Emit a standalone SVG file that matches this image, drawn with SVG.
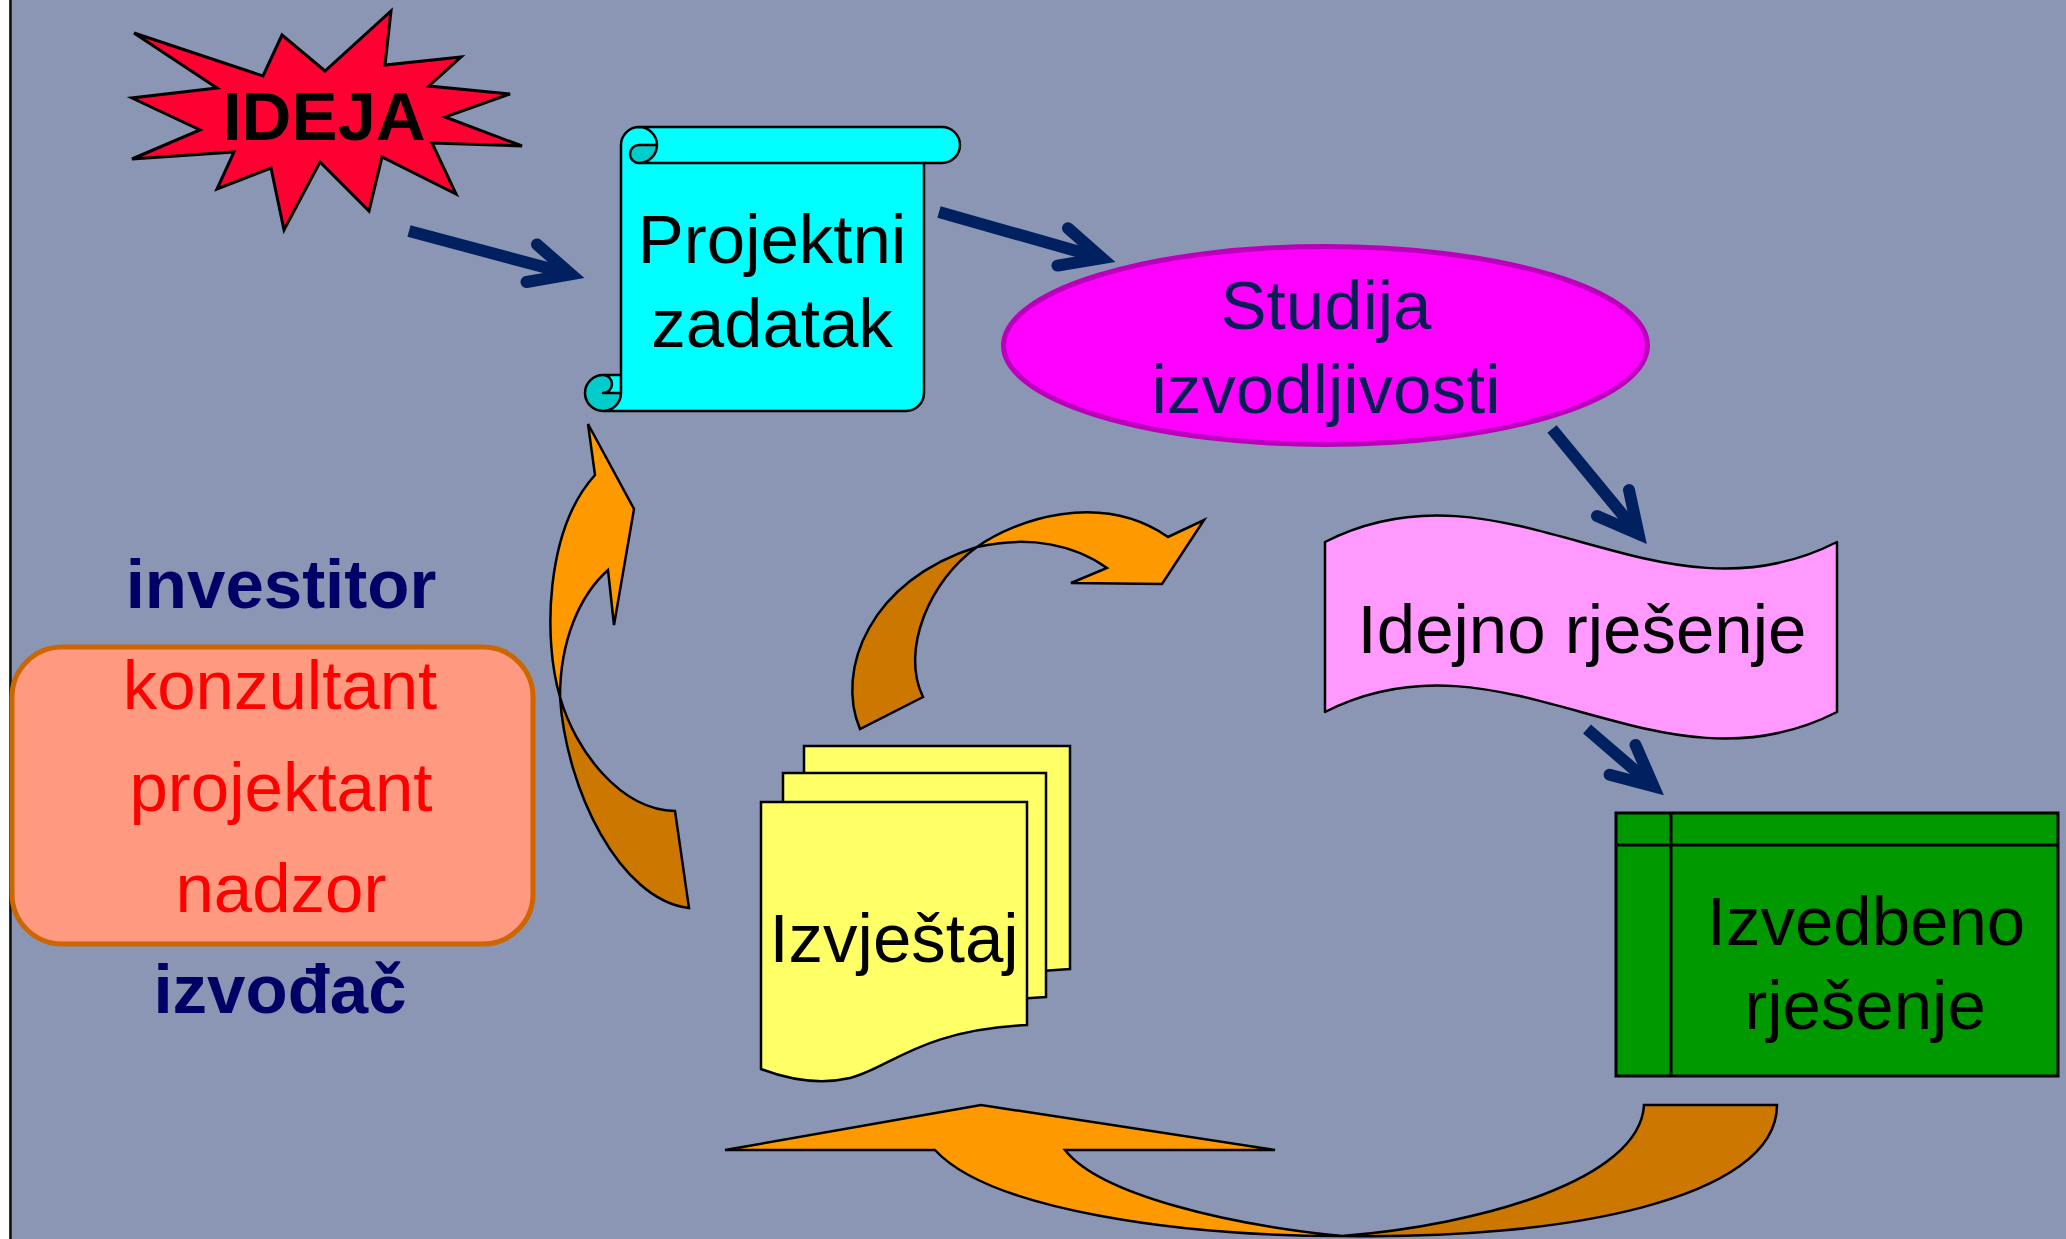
<svg xmlns="http://www.w3.org/2000/svg" width="2066" height="1239" viewBox="0 0 2066 1239">
  <defs>
    <style>
      .t { font-family: "Liberation Sans", Arial, sans-serif; font-size: 69px; text-anchor: middle; }
      .b { font-weight: bold; }
      .ol { stroke: #000; stroke-width: 2.5; stroke-linejoin: round; }
      .shaft { fill: none; stroke: #002060; stroke-width: 12; stroke-linecap: butt; }
      .head { fill: none; stroke: #002060; stroke-width: 12; stroke-linecap: round; stroke-linejoin: miter; stroke-miterlimit: 6; }
      .lite { fill: #FF9900; stroke: #000; stroke-width: 2.5; stroke-linejoin: miter; }
      .dark { fill: #CC7700; stroke: #000; stroke-width: 2.5; stroke-linejoin: miter; }
      .doc { fill: #FFFF66; stroke: #000; stroke-width: 2.5; }
    </style>
  </defs>

  <rect x="0" y="0" width="2066" height="1239" fill="#FFFFFF"/>
  <rect x="9" y="0" width="2057" height="1239" fill="#8B96B4"/>
  <line x1="10.5" y1="0" x2="10.5" y2="1239" stroke="#111" stroke-width="2.5"/>

  <g id="connectors">
    <!-- navy arrows -->
    <g id="arrow-ideja-projektni">
      <path class="shaft" d="M409,231 L571,274.3"/>
      <path class="head" d="M537,244.5 L571,274.3 L526.5,282"/>
    </g>
    <g id="arrow-projektni-studija">
      <path class="shaft" d="M939,212 L1102,258.2"/>
      <path class="head" d="M1068,228.2 L1102,258.2 L1057.5,265.6"/>
    </g>
    <g id="arrow-studija-idejno">
      <path class="shaft" d="M1552,429 L1638.5,534"/>
      <path class="head" d="M1629,490 L1638.5,534 L1597,516.1"/>
    </g>
    <g id="arrow-idejno-izvedbeno">
      <path class="shaft" d="M1587,729 L1653.5,786.2"/>
      <path class="head" d="M1635.5,744.9 L1653.5,786.2 L1609.6,774.7"/>
    </g>

    <!-- orange curved arrow: izvedbeno -> izvjestaj (bottom) -->
    <g id="arrow-izvedbeno-izvjestaj">
      <path class="dark" d="M1342,1236 C1560,1240 1777,1200 1777,1105 L1644,1105 C1640,1180 1480,1225 1342,1236 Z"/>
      <path class="lite" d="M1342,1236 C1180,1236 990,1210 935,1150 L725,1150 L981,1105 L1275,1150 L1065,1150 C1100,1195 1230,1225 1342,1236 Z"/>
    </g>

    <!-- orange curved arrow: izvjestaj -> up-right -->
    <g id="arrow-izvjestaj-loop">
      <path class="dark" d="M860,729 C835,670 870,580 977,547 C930,580 900,650 923,697 Z"/>
      <path class="lite" d="M977,547 C1015,520 1100,490 1168,537 L1204,520 L1162,584 L1071,583 L1107,568 C1075,545 1030,535 977,547 Z"/>
    </g>

    <!-- orange curved arrow: left, up to projektni -->
    <g id="arrow-left-up">
      <path class="dark" d="M560,697 C566,790 620,900 689,908 L675,811 C620,810 575,750 560,697 Z"/>
      <path class="lite" d="M560,697 C543,640 545,530 595,475 L588,424 L634,509 L614,625 L608,570 C580,595 560,640 560,697 Z"/>
    </g>
  </g>

  <g id="node-ideja">
    <polygon fill="#FF0033" stroke="#000" stroke-width="3" stroke-linejoin="miter"
      points="134,33 263,76 282,35 325,71 391,11 385,65 461,57 429,86 510,94 445,117 522,146 432,143 456,194 382,157 369,211 320,162 284,230 271,168 217,189 234,152 132,159 200,130 132,98 217,88"/>
    <text class="t b" x="324" y="140" font-size="70" fill="#000">IDEJA</text>
  </g>

  <g id="node-projektni">
    <path fill="#00FFFF" d="M621,375 L621,145 A18,18 0 0 1 639,127 L942,127 A18,18 0 0 1 942,163 L924,163 L924,393 A18,18 0 0 1 906,411 L603,411 A18,18 0 0 1 603,375 Z"/>
    <path fill="#00CCCC" d="M657,145 A18,18 0 0 1 639,163 A9,9 0 0 1 639,145 Z M621,393 A18,18 0 1 1 603,375 A9,9 0 0 1 603,393 Z"/>
    <path fill="none" class="ol" d="M621,375 L621,145 A18,18 0 0 1 639,127 L942,127 A18,18 0 0 1 942,163 L924,163 L924,393 A18,18 0 0 1 906,411 L603,411 A18,18 0 0 1 603,375 Z M639,127 A18,18 0 0 1 639,163 A9,9 0 0 1 639,145 L657,145 M924,163 L639,163 M603,375 A9,9 0 0 1 603,393 L621,393 M603,411 A18,18 0 0 0 621,393 L621,375"/>
    <text class="t" x="772" y="263" fill="#000">Projektni</text>
    <text class="t" x="772" y="347" fill="#000">zadatak</text>
  </g>

  <g id="node-studija">
    <ellipse cx="1325.5" cy="345.5" rx="322" ry="99" fill="#FF00FF" stroke="#BB00BB" stroke-width="5"/>
    <text class="t" x="1326" y="329" fill="#0A1C55">Studija</text>
    <text class="t" x="1326" y="413" fill="#0A1C55">izvodljivosti</text>
  </g>

  <g id="node-idejno">
    <path fill="#FF99FF" class="ol" d="M1325,542 C1505,450 1657,634 1837,542 L1837,712 C1657,804 1505,620 1325,712 Z"/>
    <text class="t" x="1582" y="653" fill="#000">Idejno rješenje</text>
  </g>

  <g id="node-izvedbeno">
    <rect x="1616" y="813" width="442" height="263" fill="#009900" stroke="#000" stroke-width="3"/>
    <line x1="1616" y1="845" x2="2058" y2="845" stroke="#000" stroke-width="3"/>
    <line x1="1671" y1="813" x2="1671" y2="1076" stroke="#000" stroke-width="3"/>
    <text class="t" x="1866" y="945" fill="#000">Izvedbeno</text>
    <text class="t" x="1865" y="1029" fill="#000">rješenje</text>
  </g>

  <g id="node-izvjestaj">
    <path class="doc" d="M804,746 L1070,746 L1070,969 C973,974 943,994 913,1009 C883,1024 853,1030 804,1013 Z"/>
    <path class="doc" d="M783,773 L1046,773 L1046,997 C952,1002 922,1022 892,1037 C862,1052 832,1058 783,1040 Z"/>
    <path class="doc" d="M761,802 L1027,802 L1027,1025 C920,1030 890,1068 850,1078 C820,1085 790,1080 761,1069 Z"/>
    <text class="t" x="894" y="962" fill="#000">Izvještaj</text>
  </g>

  <g id="node-roles">
    <text class="t b" x="281" y="608" font-size="70" fill="#000066">investitor</text>
    <rect x="12" y="647" width="521" height="297" rx="50" ry="50" fill="#FF9980" stroke="#CC6600" stroke-width="5"/>
    <text class="t" x="280" y="709" fill="#FF0000">konzultant</text>
    <text class="t" x="281" y="811" fill="#FF0000">projektant</text>
    <text class="t" x="281" y="912" fill="#FF0000">nadzor</text>
    <text class="t b" x="280" y="1013" fill="#000066">izvođač</text>
  </g>
</svg>
